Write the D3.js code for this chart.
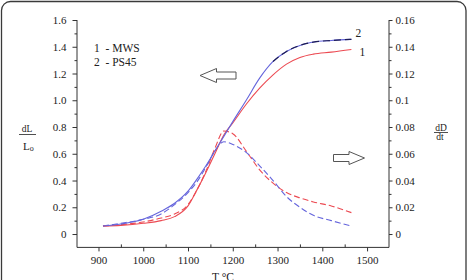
<!DOCTYPE html>
<html>
<head>
<meta charset="utf-8">
<script src="https://cdnjs.cloudflare.com/ajax/libs/d3/7.8.5/d3.min.js"></script>
<style>
  body { margin: 0; background: #fff; }
  svg text { font-family: "Liberation Serif", "Times New Roman", serif; fill: #222; }
</style>
</head>
<body>
<svg id="chart" width="469" height="280" font-family="Liberation Serif, serif"></svg>
<script>
// temperatures (°C) shared by all curves
var temps = [910, 950, 1000, 1040, 1070, 1100, 1120, 1140, 1160, 1180, 1200, 1230, 1260, 1290, 1320, 1350, 1380, 1420, 1465];

// dL/Lo (left axis)
var mwsDL  = [0.06, 0.065, 0.08, 0.10, 0.13, 0.21, 0.33, 0.46, 0.60, 0.74, 0.83, 0.97, 1.09, 1.19, 1.27, 1.32, 1.345, 1.36, 1.38];
var ps45DL = [0.06, 0.075, 0.11, 0.17, 0.23, 0.32, 0.41, 0.51, 0.62, 0.73, 0.84, 1.00, 1.165, 1.29, 1.365, 1.41, 1.435, 1.447, 1.455];

// dD/dt (right axis)
var mwsDD  = [0.006, 0.007, 0.009, 0.012, 0.015, 0.022, 0.033, 0.047, 0.064, 0.077, 0.075, 0.062, 0.048, 0.038, 0.031, 0.027, 0.024, 0.021, 0.016];
var ps45DD = [0.006, 0.008, 0.011, 0.015, 0.022, 0.031, 0.039, 0.050, 0.062, 0.069, 0.067, 0.061, 0.051, 0.040, 0.028, 0.020, 0.014, 0.010, 0.006];

var xTicks = [900, 1000, 1100, 1200, 1300, 1400, 1500];
var xMinor = [950, 1050, 1150, 1250, 1350, 1450];
var leftTicks = [0, 0.2, 0.4, 0.6, 0.8, 1.0, 1.2, 1.4, 1.6];
var leftLabels = ["0", "0.2", "0.4", "0.6", "0.8", "1.0", "1.2", "1.4", "1.6"];
var leftMinor = [0.1, 0.3, 0.5, 0.7, 0.9, 1.1, 1.3, 1.5];
var rightTicks = [0, 0.02, 0.04, 0.06, 0.08, 0.1, 0.12, 0.14, 0.16];
var rightLabels = ["0", "0.02", "0.04", "0.06", "0.08", "0.1", "0.12", "0.14", "0.16"];
var rightMinor = [0.01, 0.03, 0.05, 0.07, 0.09, 0.11, 0.13, 0.15];

var legendItems = ["1  - MWS", "2  - PS45"];

var red = "#ec4a52", blue = "#6565dc";
var serif = "Liberation Serif, Times New Roman, serif";

var svg = d3.select("#chart");

// frame
svg.append("rect")
  .attr("x", 1.5).attr("y", 1.5)
  .attr("width", 464.5).attr("height", 320)
  .attr("rx", 9)
  .attr("fill", "none")
  .attr("stroke", "#3a3a3a")
  .attr("stroke-width", 1.3);

var plotL = 77, plotR = 389, plotT = 20, plotB = 247.4;

var x = d3.scaleLinear().domain([852, 1549]).range([plotL, plotR]);
var yL = d3.scaleLinear().domain([-0.1, 1.6]).range([plotB, plotT]);
var yR = d3.scaleLinear().domain([-0.01, 0.16]).range([plotB, plotT]);

function styleAxis(g) {
  g.attr("font-family", serif);
  g.select(".domain").remove();
  g.selectAll("line").attr("stroke", "#333");
  g.selectAll("text").style("font-size", "11px").style("font-family", serif);
}

// bottom axis
svg.append("g")
  .attr("transform", "translate(0," + plotB + ")")
  .call(d3.axisBottom(x).tickValues(xTicks).tickSize(4).tickPadding(5).tickFormat(d3.format("d")))
  .call(styleAxis);
svg.append("g")
  .attr("transform", "translate(0," + plotB + ")")
  .call(d3.axisTop(x).tickValues(xMinor).tickSize(3).tickFormat(""))
  .call(styleAxis);

// left axis
svg.append("g")
  .attr("transform", "translate(" + plotL + ",0)")
  .call(d3.axisLeft(yL).tickValues(leftTicks).tickSize(4.5).tickPadding(6)
    .tickFormat(function(d, i) { return leftLabels[i]; }))
  .call(styleAxis);
svg.append("g")
  .attr("transform", "translate(" + plotL + ",0)")
  .call(d3.axisLeft(yL).tickValues(leftMinor).tickSize(2.5).tickFormat(""))
  .call(styleAxis);

// right axis
svg.append("g")
  .attr("transform", "translate(" + plotR + ",0)")
  .call(d3.axisRight(yR).tickValues(rightTicks).tickSize(3.5).tickPadding(3)
    .tickFormat(function(d, i) { return rightLabels[i]; }))
  .call(styleAxis);
svg.append("g")
  .attr("transform", "translate(" + plotR + ",0)")
  .call(d3.axisRight(yR).tickValues(rightMinor).tickSize(2.5).tickFormat(""))
  .call(styleAxis);

// axis lines
svg.append("path")
  .attr("d", "M" + plotL + "," + plotT + "V" + plotB + "H" + plotR + "V" + plotT)
  .attr("fill", "none")
  .attr("stroke", "#333")
  .attr("stroke-width", 1);

// curves
function lineFor(vals, yScale) {
  var pts = temps.map(function(t, i) { return [t, vals[i]]; });
  return d3.line()
    .x(function(d) { return x(d[0]); })
    .y(function(d) { return yScale(d[1]); })
    .curve(d3.curveMonotoneX)(pts);
}

svg.append("path").attr("d", lineFor(mwsDD, yR))
  .attr("fill", "none").attr("stroke", red).attr("stroke-width", 1.1).attr("stroke-dasharray", "6,3");
svg.append("path").attr("d", lineFor(ps45DD, yR))
  .attr("fill", "none").attr("stroke", blue).attr("stroke-width", 1.1).attr("stroke-dasharray", "6,3");
svg.append("path").attr("d", lineFor(mwsDL, yL))
  .attr("fill", "none").attr("stroke", red).attr("stroke-width", 1.1);
svg.append("path").attr("d", lineFor(ps45DL, yL))
  .attr("fill", "none").attr("stroke", blue).attr("stroke-width", 1.1);

// dark dashes over the upper part of curve 2
var upper = temps.map(function(t, i) { return [t, ps45DL[i]]; }).filter(function(d) { return d[0] >= 1290; });
svg.append("path")
  .attr("d", d3.line().x(function(d) { return x(d[0]); }).y(function(d) { return yL(d[1]); }).curve(d3.curveMonotoneX)(upper))
  .attr("fill", "none").attr("stroke", "#1d1d55").attr("stroke-width", 1.2).attr("stroke-dasharray", "7,4");

// curve numbers
svg.append("text").attr("x", x(1465) + 4).attr("y", yL(1.455) - 2).style("font-size", "11.5px").text("2");
svg.append("text").attr("x", x(1465) + 8).attr("y", yL(1.38) + 7).style("font-size", "11.5px").text("1");

// legend
svg.selectAll(".leg")
  .data(legendItems)
  .enter().append("text")
  .attr("x", 94)
  .attr("y", function(d, i) { return 52 + i * 13.5; })
  .style("font-size", "11.5px")
  .attr("xml:space", "preserve")
  .text(function(d) { return d; });

// hollow arrows
function arrow(pts) {
  svg.append("path")
    .attr("d", d3.line()(pts) + "Z")
    .attr("fill", "#fff")
    .attr("stroke", "#555")
    .attr("stroke-width", 1);
}
arrow([[200, 75.5], [216.5, 68.5], [216.5, 72], [236, 72], [236, 79], [216.5, 79], [216.5, 82.5]]);
arrow([[364.5, 158], [349, 151.5], [349, 154.5], [333.5, 154.5], [333.5, 161.5], [349, 161.5], [349, 164.5]]);

// axis titles
svg.append("text").attr("x", 223).attr("y", 280.5).attr("text-anchor", "middle")
  .style("font-size", "11.5px").text("T °C");

var lt = svg.append("g");
lt.append("text").attr("x", 27).attr("y", 132).attr("text-anchor", "middle").style("font-size", "9.5px").text("dL");
lt.append("line").attr("x1", 19).attr("x2", 36).attr("y1", 134.5).attr("y2", 134.5).attr("stroke", "#222").attr("stroke-width", 0.8);
var lo = lt.append("text").attr("x", 23).attr("y", 150).style("font-size", "11px");
lo.append("tspan").text("L");
lo.append("tspan").attr("dy", 1).style("font-size", "8px").text("o");

var rt = svg.append("g");
rt.append("text").attr("x", 441).attr("y", 130.5).attr("text-anchor", "middle").style("font-size", "9.5px").text("dD");
rt.append("line").attr("x1", 434).attr("x2", 448).attr("y1", 132.5).attr("y2", 132.5).attr("stroke", "#222").attr("stroke-width", 0.8);
rt.append("text").attr("x", 440).attr("y", 139.5).attr("text-anchor", "middle").style("font-size", "9.5px").text("dt");
</script>
</body>
</html>
